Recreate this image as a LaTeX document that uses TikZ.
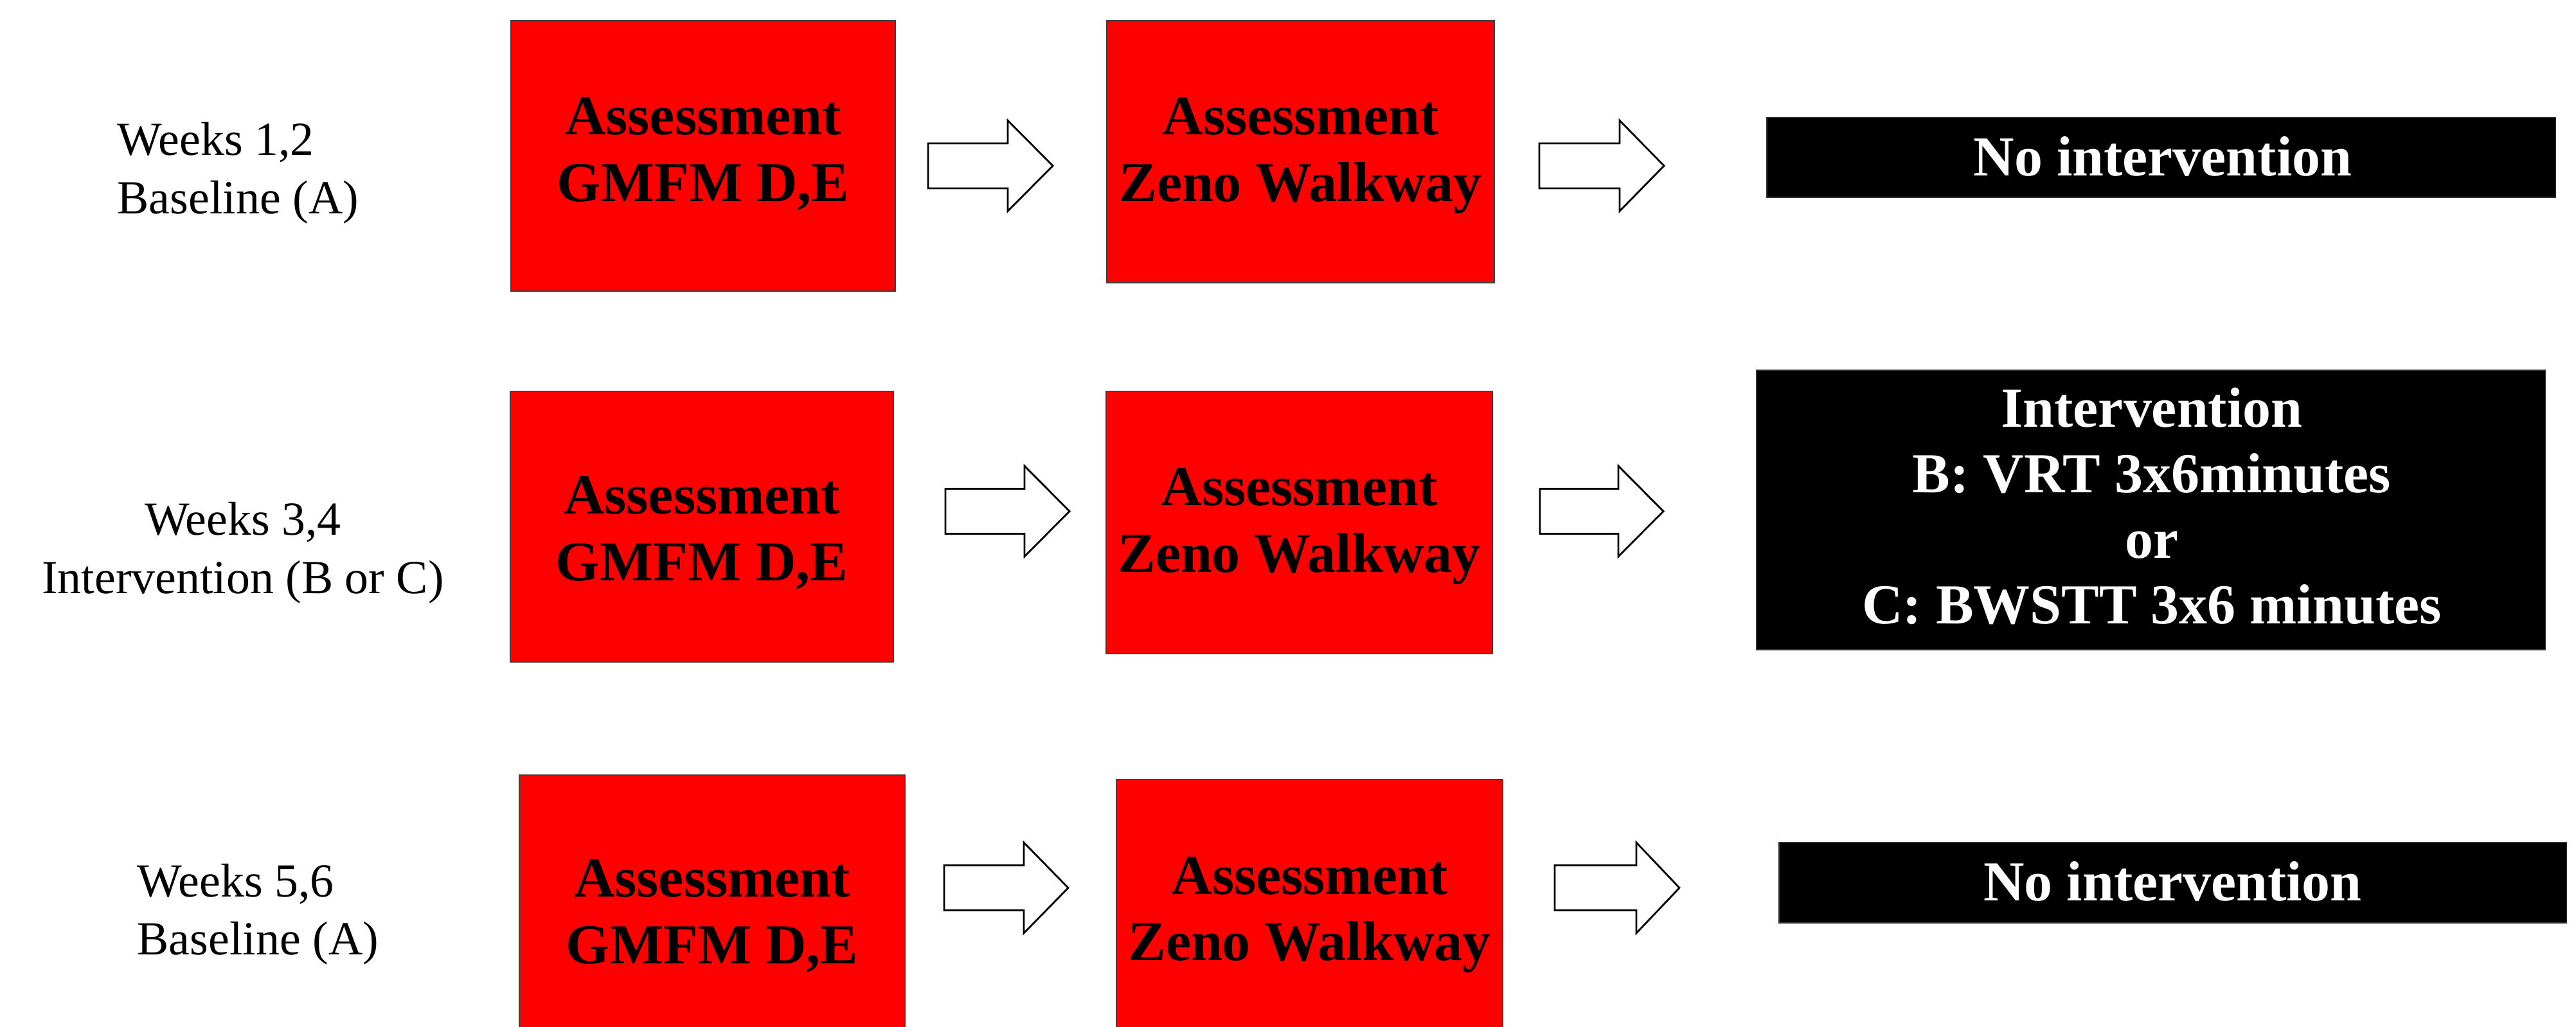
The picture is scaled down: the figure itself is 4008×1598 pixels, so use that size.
\documentclass[tikz,border=0pt]{standalone}
\usepackage{fontspec}
\setmainfont{Liberation Serif}
\definecolor{boxred}{RGB}{255,0,0}
\tikzset{
  redbox/.style={draw=black!75, line width=0.5pt, fill=boxred, inner sep=0pt},
  blackbox/.style={draw=black!80, line width=0.5pt, fill=black, inner sep=0pt},
  boxtext/.style={inner sep=0pt, anchor=base, font=\fontsize{25}{29.4}\selectfont\bfseries},
  whitetext/.style={boxtext, text=white},
  weektext/.style={inner sep=0pt, font=\fontsize{21}{25.6}\selectfont},
  arrowshape/.style={draw=black, fill=white, line width=0.8pt, line join=miter}
}
\newcommand{\blockarrow}[4]{%
  \draw[arrowshape] (#1,#4-35) -- (#2,#4-35) -- (#2,#4-70.5) -- (#3,#4)
    -- (#2,#4+70.5) -- (#2,#4+35) -- (#1,#4+35) -- cycle;}
\begin{document}
\begin{tikzpicture}[x=0.01cm, y=-0.01cm]
\useasboundingbox (0,0) rectangle (4008,1598);
\clip (0,0) rectangle (4008,1598);

% ---------- Row 1 ----------
\node[weektext, anchor=base west] (l1) at (182,242)
  {\begin{tabular}[t]{@{}l@{}}Weeks 1,2\\ Baseline (A)\end{tabular}};
\node[redbox, minimum width=5.98cm, minimum height=4.21cm] (r1a) at (1094,242.5) {};
\node[boxtext] (t1a) at (1094,210)
  {\begin{tabular}[t]{@{}c@{}}Assessment\\ GMFM D,E\end{tabular}};
\node[redbox, minimum width=6.03cm, minimum height=4.08cm] (r1b) at (2023.5,236) {};
\node[boxtext] (t1b) at (2023.5,210)
  {\begin{tabular}[t]{@{}c@{}}Assessment\\ Zeno Walkway\end{tabular}};
\node[blackbox, minimum width=12.27cm, minimum height=1.24cm] (b1) at (3362.5,245) {};
\node[whitetext] (tb1) at (3365,274) {No intervention};
\blockarrow{1444}{1568}{1638}{258}
\blockarrow{2395}{2520}{2589}{258}

% ---------- Row 2 ----------
\node[weektext, anchor=base] (l2) at (378,833)
  {\begin{tabular}[t]{@{}c@{}}Weeks 3,4\\ Intervention (B or C)\end{tabular}};
\node[redbox, minimum width=5.96cm, minimum height=4.21cm] (r2a) at (1092,819.5) {};
\node[boxtext] (t2a) at (1092,800)
  {\begin{tabular}[t]{@{}c@{}}Assessment\\ GMFM D,E\end{tabular}};
\node[redbox, minimum width=6.01cm, minimum height=4.08cm] (r2b) at (2021.5,813) {};
\node[boxtext] (t2b) at (2021.5,787)
  {\begin{tabular}[t]{@{}c@{}}Assessment\\ Zeno Walkway\end{tabular}};
\node[blackbox, minimum width=12.27cm, minimum height=4.35cm] (b2) at (3346.5,793.5) {};
\node[whitetext] (tb2) at (3348,665)
  {\fontsize{25}{29.0}\selectfont\begin{tabular}[t]{@{}c@{}}Intervention\\ B: VRT 3x6minutes\\ or\\ C: BWSTT 3x6 minutes\end{tabular}};
\blockarrow{1471}{1594}{1664}{795.5}
\blockarrow{2396}{2518}{2588}{795.5}

% ---------- Row 3 ----------
\node[weektext, anchor=base west] (l3) at (213,1395)
  {\begin{tabular}[t]{@{}l@{}}Weeks 5,6\\ Baseline (A)\end{tabular}};
\node[redbox, minimum width=6.00cm, minimum height=4.21cm] (r3a) at (1108,1416.5) {};
\node[boxtext] (t3a) at (1108,1396)
  {\begin{tabular}[t]{@{}c@{}}Assessment\\ GMFM D,E\end{tabular}};
\node[redbox, minimum width=6.01cm, minimum height=4.08cm] (r3b) at (2037.5,1417) {};
\node[boxtext] (t3b) at (2037.5,1391)
  {\begin{tabular}[t]{@{}c@{}}Assessment\\ Zeno Walkway\end{tabular}};
\node[blackbox, minimum width=12.25cm, minimum height=1.25cm] (b3) at (3380.5,1373.5) {};
\node[whitetext] (tb3) at (3380.5,1401) {No intervention};
\blockarrow{1469}{1593}{1662}{1381.5}
\blockarrow{2419}{2546}{2613}{1381.5}
\end{tikzpicture}
\end{document}
